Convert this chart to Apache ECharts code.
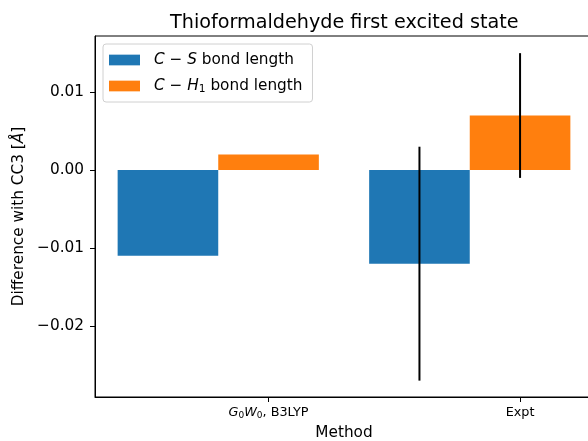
<!DOCTYPE html>
<html>
<head>
<meta charset="utf-8">
<script src="https://cdn.jsdelivr.net/npm/echarts@6/dist/echarts.min.js"></script>
<style>html,body{margin:0;padding:0;background:#fff}#c{width:588px;height:441px}</style>
</head>
<body>
<div id="c"></div>
<script>
// ---- data ----
var categories = ['G0W0, B3LYP', 'Expt'];
var categoryLabels = ['{i|G}{sub|0}{i|W}{sub|0}, B3LYP', 'Expt'];
var seriesNames = ['C − S bond length', 'C − H1 bond length'];
var legendLabels = ['{i|C} − {i|S} bond length', '{i|C} − {i|H}{sub|1} bond length'];
var csValues = [-0.011, -0.012];
var chValues = [0.002, 0.007];
var csErrors = [null, 0.015];
var chErrors = [null, 0.008];
var yTicks = [-0.02, -0.01, 0.00, 0.01];

var BAR_W = 0.4;
var FONT = 'DejaVu Sans';
var colors = ['#1f77b4', '#ff7f0e'];

function barData(vals) { return vals.map(function (v, i) { return [i, v]; }); }
function errData(vals, errs) {
  var out = [];
  vals.forEach(function (v, i) { if (errs[i] != null) out.push([i, v, errs[i]]); });
  return out;
}
function barRender(offset) {
  return function (params, api) {
    var x = api.value(0) + offset, y = api.value(1);
    var p0 = api.coord([x - BAR_W / 2, 0]);
    var p1 = api.coord([x + BAR_W / 2, y]);
    return {
      type: 'rect',
      shape: { x: p0[0], y: Math.min(p0[1], p1[1]), width: p1[0] - p0[0], height: Math.abs(p1[1] - p0[1]) },
      style: { fill: api.visual('color') }
    };
  };
}
function errRender(offset) {
  return function (params, api) {
    var x = api.value(0) + offset, y = api.value(1), e = api.value(2);
    var a = api.coord([x, y - e]);
    var b = api.coord([x, y + e]);
    return {
      type: 'line',
      shape: { x1: a[0], y1: a[1], x2: b[0], y2: b[1] },
      style: { stroke: '#000', lineWidth: 2 },
      z2: 10
    };
  };
}

var chart = echarts.init(document.getElementById('c'), null, { renderer: 'canvas' });
chart.setOption({
  animation: false,
  backgroundColor: '#fff',
  textStyle: { fontFamily: FONT },
  title: {
    text: 'Thioformaldehyde first excited state',
    left: 165, top: 9,
    textStyle: { fontFamily: FONT, fontSize: 19.2, fontWeight: 'normal', color: '#000' }
  },
  grid: {
    left: 95, top: 36, right: -5, bottom: 44,
    containLabel: false, outerBoundsMode: 'none',
    show: true, borderColor: '#000', borderWidth: 1, backgroundColor: 'transparent'
  },
  legend: {
    orient: 'vertical',
    left: 103, top: 44,
    padding: [7, 10, 7, 6],
    itemWidth: 31, itemHeight: 10.7, itemGap: 8,
    backgroundColor: '#fff',
    borderColor: '#d0d0d0', borderWidth: 1, borderRadius: 3,
    data: [
      { name: seriesNames[0], icon: 'rect' },
      { name: seriesNames[1], icon: 'rect' }
    ],
    formatter: function (name) { return legendLabels[seriesNames.indexOf(name)]; },
    textStyle: {
      fontFamily: FONT, fontSize: 15.3, color: '#000', padding: [0, 0, 0, 9], lineHeight: 18,
      rich: {
        i: { fontFamily: FONT, fontSize: 15.3, fontStyle: 'italic', color: '#000', lineHeight: 18 },
        sub: { fontFamily: FONT, fontSize: 10.7, color: '#000', padding: [6, 0, 0, 0], lineHeight: 18 }
      }
    }
  },
  xAxis: {
    type: 'value',
    min: -0.69, max: 1.29,
    splitLine: { show: false },
    axisLine: { show: true, onZero: false, lineStyle: { color: '#000', width: 1 } },
    axisTick: { show: true, inside: false, length: 5, lineStyle: { color: '#000' }, customValues: [0, 1] },
    axisLabel: {
      customValues: [0, 1],
      margin: 9,
      fontFamily: FONT, fontSize: 12.8, color: '#000',
      formatter: function (v) { return categoryLabels[Math.round(v)]; },
      rich: {
        i: { fontFamily: FONT, fontSize: 12.8, fontStyle: 'italic', color: '#000' },
        sub: { fontFamily: FONT, fontSize: 9, color: '#000', padding: [5, 0, 0, 0] }
      }
    },
    name: 'Method',
    nameLocation: 'middle',
    nameGap: 29,
    nameTextStyle: { fontFamily: FONT, fontSize: 15.3, color: '#000' }
  },
  yAxis: {
    type: 'value',
    min: -0.0291, max: 0.0172,
    splitLine: { show: false },
    axisLine: { show: true, onZero: false, lineStyle: { color: '#000', width: 1 } },
    axisTick: { show: true, inside: false, length: 5, lineStyle: { color: '#000' }, customValues: yTicks },
    axisLabel: {
      customValues: yTicks,
      margin: 11,
      fontFamily: FONT, fontSize: 15.3, color: '#000',
      formatter: function (v) { return v.toFixed(2).replace('-', '−'); }
    },
    name: 'Difference with CC3 [{i|Å}]',
    nameLocation: 'middle',
    nameRotate: 90,
    nameGap: 64,
    nameTextStyle: {
      fontFamily: FONT, fontSize: 15.3, color: '#000',
      rich: { i: { fontFamily: FONT, fontSize: 15.3, fontStyle: 'italic', color: '#000' } }
    }
  },
  series: [
    { name: seriesNames[0], type: 'custom', data: barData(csValues), renderItem: barRender(-0.4), itemStyle: { color: colors[0] }, z: 2 },
    { name: seriesNames[1], type: 'custom', data: barData(chValues), renderItem: barRender(0), itemStyle: { color: colors[1] }, z: 2 },
    { name: 'err1', type: 'custom', data: errData(csValues, csErrors), renderItem: errRender(-0.4), z: 3 },
    { name: 'err2', type: 'custom', data: errData(chValues, chErrors), renderItem: errRender(0), z: 3 }
  ]
});
</script>
</body>
</html>
